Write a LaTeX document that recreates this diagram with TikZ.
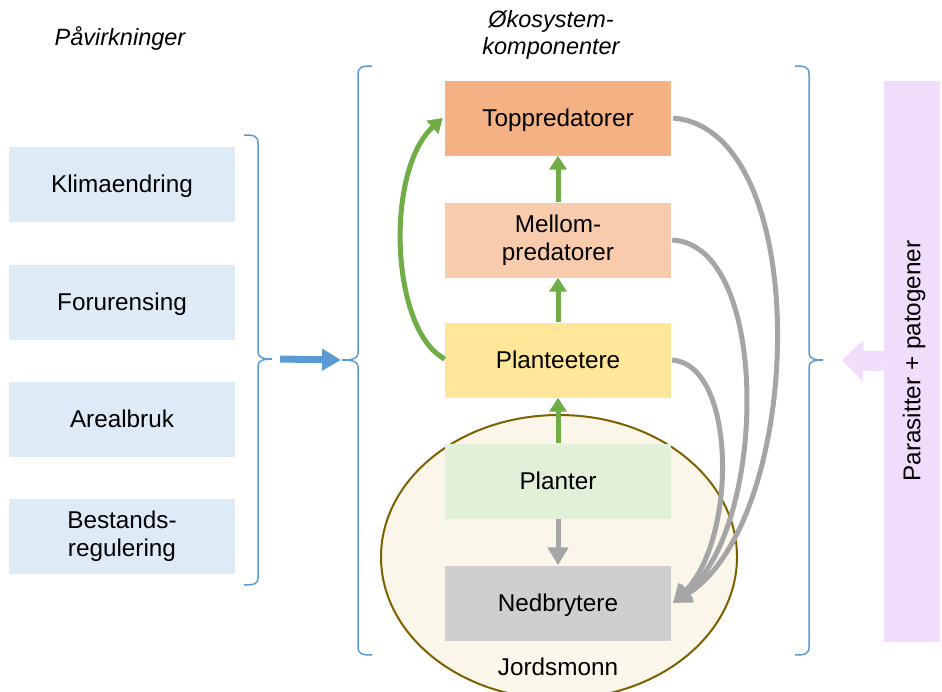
\documentclass[tikz,border=0pt]{standalone}
\usepackage{fontspec}
\setmainfont{Liberation Sans}
\usetikzlibrary{arrows.meta,shapes.geometric}

\definecolor{pressurefill}{HTML}{DEEBF7}
\definecolor{topfill}{HTML}{F4B183}
\definecolor{midfill}{HTML}{F8CBAD}
\definecolor{herbfill}{HTML}{FFE699}
\definecolor{plantfill}{HTML}{E2F0D9}
\definecolor{decompfill}{HTML}{D0CECE}
\definecolor{soilfill}{HTML}{FBF6EA}
\definecolor{soilline}{HTML}{7F6000}
\definecolor{bracecol}{HTML}{5B9BD5}
\definecolor{flowgreen}{HTML}{70AD47}
\definecolor{flowgray}{HTML}{A5A5A5}
\definecolor{parafill}{HTML}{F0DCFB}

% invisible strut with the ascent and descent of the font's line box
\newcommand\linestrut{\rule[-0.212em]{0pt}{1.117em}}

\begin{document}
\begin{tikzpicture}[x=1pt,y=-1pt,
  txt/.style={font=\fontsize{24.3}{28}\selectfont, align=center, inner sep=0pt},
  cbox/.style={txt, minimum width=226pt, minimum height=75pt, execute at begin node=\linestrut},
  pbox/.style={cbox, fill=pressurefill},
  ebox/.style={cbox},
  heading/.style={font=\fontsize{23.5}{27}\selectfont\itshape, align=center, inner sep=0pt},
  bracket/.style={draw=bracecol, line width=1.5pt},
  upflow/.style={draw=flowgreen, line width=5pt, -{Triangle[length=14pt,width=17pt]}},
  decay/.style={draw=flowgray, line width=5pt, -{Triangle[length=18pt,width=20pt]}},
]
\useasboundingbox (0,0) rectangle (942,691);

% soil ellipse behind the lower two components
\node[ellipse, draw=soilline, line width=2pt, fill=soilfill,
      minimum width=356pt, minimum height=284pt, inner sep=0pt] (soil) at (559,557) {};
\node[txt] (soillabel) at (558,667) {Jordsmonn};

% headings
\node[heading] (hpress) at (120,38) {Påvirkninger};
\node[heading] (heco) at (551,35) {Økosystem-\\komponenter};

% pressures
\node[pbox] (klima) at (122,184) {Klimaendring};
\node[pbox] (foru)  at (122,302) {Forurensing};
\node[pbox] (areal) at (122,419) {Arealbruk};
\node[pbox] (best)  at (122,536) {Bestands-\\regulering};

% ecosystem components
\node[ebox, fill=topfill]    (top)   at (558,118) {Toppredatorer};
\node[ebox, fill=midfill]    (mid)   at (558,240) {Mellom-\\predatorer};
\node[ebox, fill=herbfill]   (herb)  at (558,360) {Planteetere};
\node[ebox, fill=plantfill]  (plant) at (558,481) {Planter};
\node[ebox, fill=decompfill] (decomp) at (558,603) {Nedbrytere};

% parasites and pathogens
\node[txt, fill=parafill, minimum width=56pt, minimum height=561pt] (para) at (912,361) {};
\node[txt, rotate=90] (paralabel) at (914,361) {Parasitter + patogener};

% braces
\coordinate (lbtip) at (272,359);
\coordinate (mbtip) at (342,360);
\coordinate (rbtip) at (823,360);
\draw[bracket] (244,135) .. controls (254,135) and (258,136) .. (258,143) -- (258,352)
  .. controls (258,357) and (262,359) .. (lbtip)
  .. controls (262,359) and (258,361) .. (258,366) -- (258,578)
  .. controls (258,584) and (254,585) .. (244,585);
\draw[bracket] (372,66) .. controls (362,66) and (358,67) .. (358,74) -- (358,353)
  .. controls (358,358) and (354,360) .. (mbtip)
  .. controls (354,360) and (358,362) .. (358,367) -- (358,647)
  .. controls (358,654) and (362,655) .. (372,655);
\draw[bracket] (795,66) .. controls (805,66) and (809,67) .. (809,74) -- (809,353)
  .. controls (809,358) and (813,360) .. (rbtip)
  .. controls (813,360) and (809,362) .. (809,367) -- (809,647)
  .. controls (809,654) and (805,655) .. (795,655);

% pressures act on the ecosystem
\draw[draw=bracecol, line width=7pt, -{Triangle[length=19pt,width=21pt]}]
  ([xshift=8pt]lbtip) -- ([xshift=-1pt]mbtip);
% parasites act on the ecosystem
\draw[draw=parafill, line width=20pt, -{Triangle[length=21pt,width=40pt]}]
  (para.west) -- ([xshift=19pt]rbtip);

% energy flow upwards
\draw[upflow] (plant.north) -- (herb.south);
\draw[upflow] (herb.north) -- (mid.south);
\draw[upflow] (mid.north) -- (top.south);
\draw[upflow] ([yshift=1pt]herb.west) .. controls (390,330) and (385,170) .. ([xshift=-2pt]top.west);

% dead matter to decomposers
\draw[decay] (plant.south) -- (decomp.north);
\coordinate (dtip) at (673,603);
\draw[decay] ([xshift=2pt]top.east) .. controls (815,130) and (805,520) .. (dtip);
\draw[decay] ([xshift=1pt]mid.east) .. controls (772,245) and (767,530) .. (dtip);
\draw[decay] ([xshift=1pt]herb.east) .. controls (737,365) and (737,540) .. (dtip);
\end{tikzpicture}
\end{document}
